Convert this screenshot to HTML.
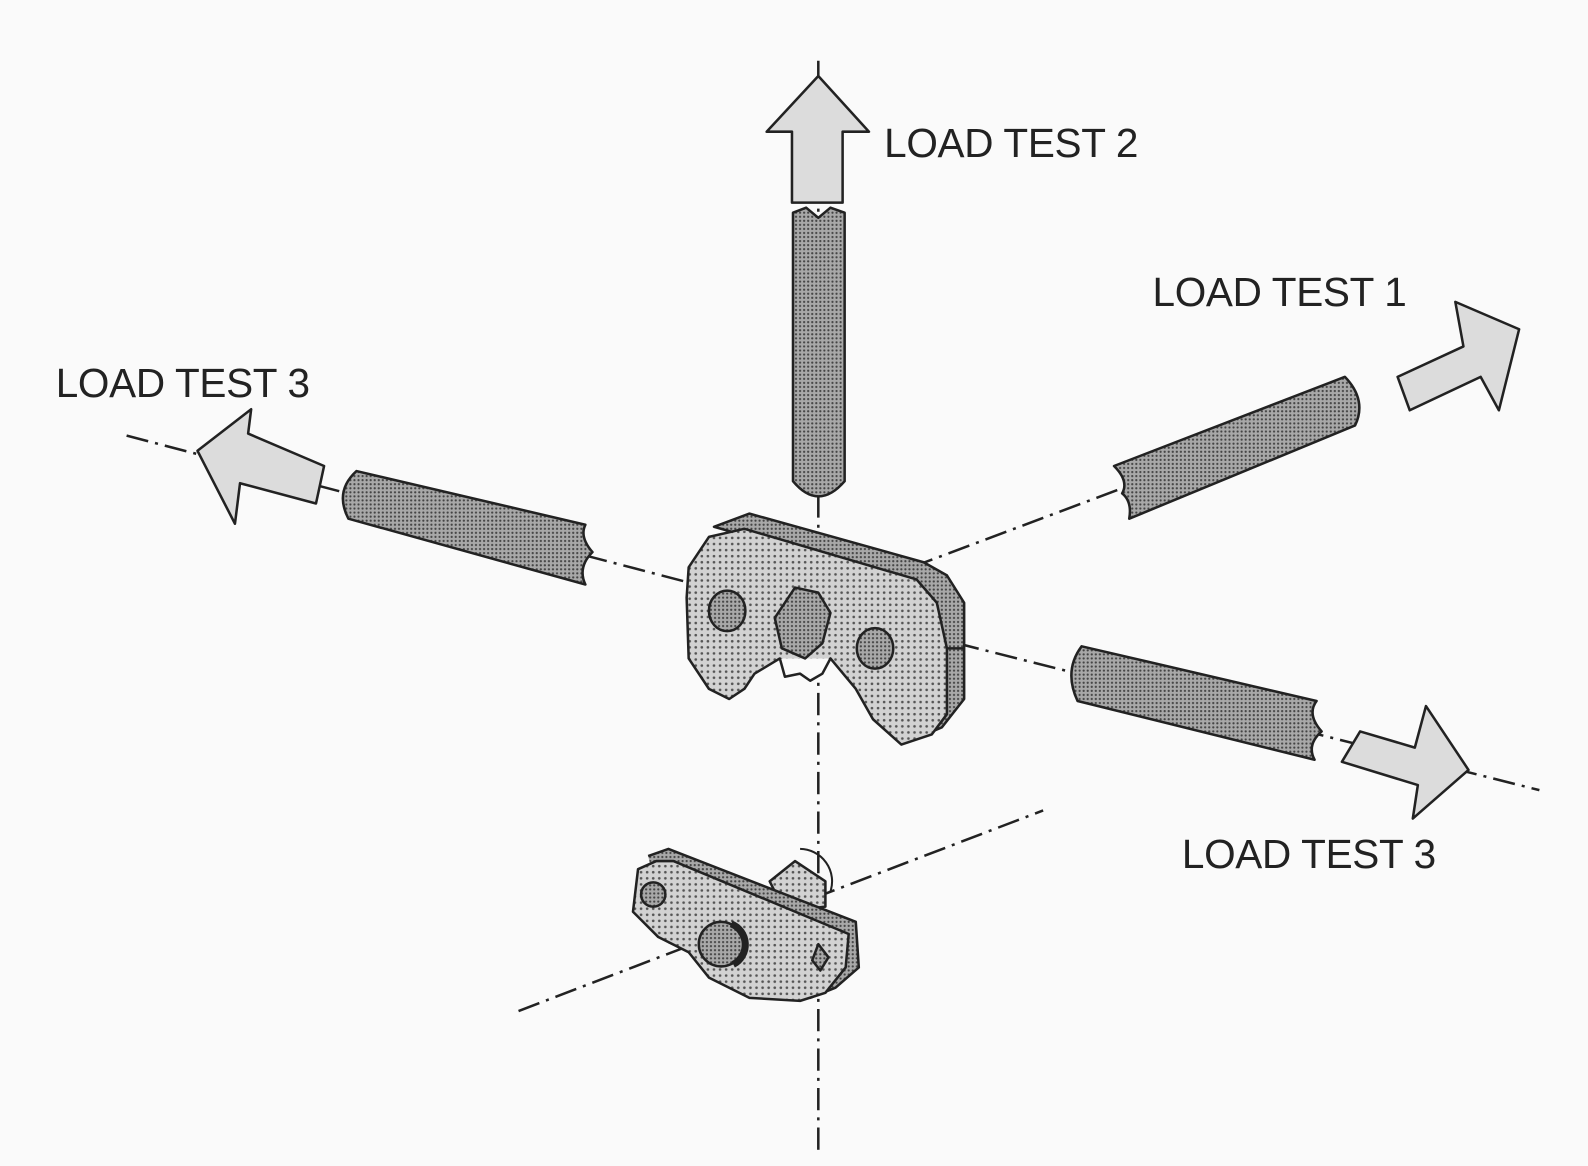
<!DOCTYPE html>
<html><head><meta charset="utf-8"><style>
html,body{margin:0;padding:0;background:#fafafa;}
svg{display:block;}
text{font-family:"Liberation Sans",Arial,sans-serif;font-size:40px;fill:#222;letter-spacing:-0.3px;}
</style></head><body>
<svg width="1588" height="1166" viewBox="0 0 1568 1151" preserveAspectRatio="none" xmlns="http://www.w3.org/2000/svg">
<defs>
<pattern id="dots" width="6" height="6" patternUnits="userSpaceOnUse"><rect width="6" height="6" fill="#d2d2d2"/><circle cx="3" cy="3" r="1.3" fill="#555"/></pattern>
<pattern id="dark" width="4" height="4" patternUnits="userSpaceOnUse"><rect width="4" height="4" fill="#a8a8a8"/><circle cx="2" cy="2" r="1.1" fill="#444"/></pattern>
</defs>
<rect width="1568" height="1151" fill="#fafafa"/>
<g stroke="#222" stroke-width="2.5" fill="none" stroke-dasharray="22 7 3 7">
<line x1="808" y1="60" x2="808" y2="1140"/>
<line x1="125" y1="430" x2="680" y2="575"/>
<line x1="945" y1="635" x2="1520" y2="780"/>
<line x1="900" y1="560" x2="1340" y2="395"/>
<line x1="512" y1="998" x2="1030" y2="800"/>
</g>
<g stroke="#222" stroke-width="2.5" stroke-linejoin="round">
<polygon points="808,75 858,130 832,130 832,200 782,200 782,130 757,130" fill="#dcdcdc"/>
<path d="M783,210 L796,205 L808,215 L820,205 L834,210 L834,475 Q808,505 783,475 Z" fill="url(#dark)"/>
<polygon points="195,445 248,404 245,428 320,460 312,497 237,477 232,517" fill="#dcdcdc"/>
<path d="M352,465 L578,518 Q572,530 585,545 Q570,560 578,577 L344,512 Q330,485 352,465 Z" fill="url(#dark)"/>
<path d="M1100,460 L1328,372 Q1350,395 1338,420 L1115,512 Q1118,495 1108,487 Q1115,475 1100,460 Z" fill="url(#dark)"/>
<polygon points="1380,372 1445,342 1437,298 1500,325 1480,405 1462,372 1392,405" fill="#dcdcdc"/>
<path d="M1068,638 L1300,692 Q1290,705 1305,722 Q1290,735 1298,750 L1064,692 Q1050,662 1068,638 Z" fill="url(#dark)"/>
<polygon points="1343,722 1397,738 1408,697 1450,760 1395,808 1400,775 1325,752" fill="#dcdcdc"/>
<!-- center part -->
<path d="M705,520 L740,507 L912,555 L935,568 L952,595 L952,690 L930,718 L895,733 L880,570 Z" fill="url(#dark)"/>
<path d="M680,560 L700,530 L735,522 L905,572 L925,595 L935,640 L935,705 L920,725 L890,735 L862,710 L845,680 L820,650 L800,665 L770,650 L745,665 L735,680 L720,690 L700,680 L680,650 L678,590 Z" fill="url(#dots)"/>
<path d="M770,650 L775,668 L790,665 L800,672 L812,665 L820,650" fill="#fafafa"/>
<line x1="935" y1="640" x2="952" y2="640"/>
<ellipse cx="718" cy="603" rx="18" ry="20" fill="url(#dark)"/>
<polygon points="785,580 808,585 820,605 812,635 795,650 772,640 765,610" fill="url(#dark)"/>
<ellipse cx="864" cy="640" rx="18" ry="20" fill="url(#dark)"/>
<!-- lower part -->
<path d="M790,838 A32,32 0 0 1 820,880" fill="none" stroke-width="2"/>
<polygon points="760,870 785,850 815,870 815,895 775,900" fill="url(#dots)"/>
<path d="M640,845 L660,838 L845,910 L848,955 L825,975 L800,985 L660,930" fill="url(#dark)"/>
<path d="M630,858 L648,850 L665,850 L838,922 L835,955 L815,980 L790,988 L740,985 L700,965 L680,940 L650,925 L625,900 Z" fill="url(#dots)"/>
<circle cx="645" cy="883" r="12" fill="url(#dark)"/>
<circle cx="712" cy="932" r="22" fill="url(#dark)"/>
<path d="M722,912 A22,22 0 0 1 724,952" fill="none" stroke-width="7"/>
<polygon points="808,932 818,945 810,958 802,948" fill="url(#dark)"/>
</g>
<text x="873" y="155">LOAD TEST 2</text>
<text x="1138" y="302">LOAD TEST 1</text>
<text x="55" y="392">LOAD TEST 3</text>
<text x="1167" y="857">LOAD TEST 3</text>
</svg>
</body></html>
